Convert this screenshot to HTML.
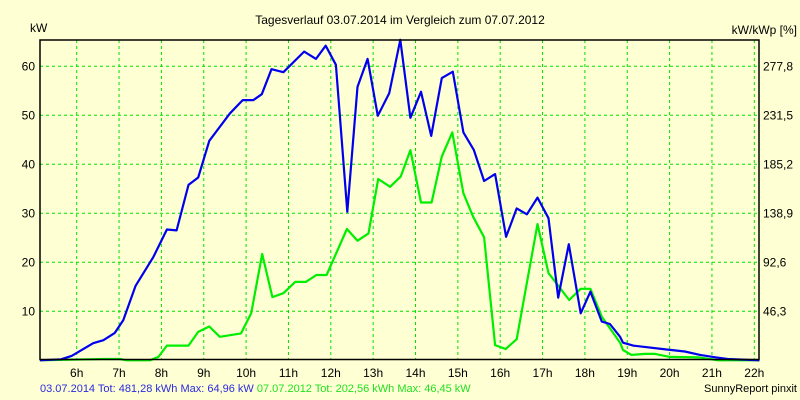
<!DOCTYPE html>
<html><head><meta charset="utf-8"><style>
html,body{margin:0;padding:0;background:#ffffd4;}
svg{display:block;font-family:"Liberation Sans",sans-serif;}
</style></head><body>
<svg id="chart" width="800" height="400" viewBox="0 0 800 400" xmlns="http://www.w3.org/2000/svg">
<rect x="0" y="0" width="800" height="400" fill="#ffffd4"/>
<text x="400" y="24" font-size="12" text-anchor="middle" fill="#000">Tagesverlauf 03.07.2014 im Vergleich zum 07.07.2012</text>
<text x="30" y="32" font-size="12" fill="#000">kW</text>
<text x="797" y="34" font-size="12" text-anchor="end" fill="#000">kW/kWp [%]</text>
<g id="grid"></g>
<g id="series"></g>
<g id="axes"></g>
<text x="40" y="392" font-size="11"><tspan fill="#2a2ae0">03.07.2014 Tot: 481,28 kWh Max: 64,96 kW </tspan><tspan fill="#22e022">07.07.2012 Tot: 202,56 kWh Max: 46,45 kW</tspan></text>
<text x="797" y="392" font-size="11" text-anchor="end" fill="#000">SunnyReport pinxit</text>
</svg>
<script>
const hourTicks = [6,7,8,9,10,11,12,13,14,15,16,17,18,19,20,21,22];
const leftTicks = [10,20,30,40,50,60];
const rightTickLabels = ["46,3","92,6","138,9","185,2","231,5","277,8"];
const blueHours = [5.13,5.63,5.88,6.39,6.63,6.9,7.1,7.39,7.81,8.13,8.36,8.64,8.87,9.13,9.62,9.92,10.17,10.37,10.6,10.88,11.37,11.65,11.88,12.12,12.39,12.63,12.87,13.11,13.38,13.64,13.88,14.13,14.37,14.62,14.88,15.13,15.38,15.62,15.88,16.14,16.39,16.63,16.88,17.14,17.37,17.62,17.9,18.13,18.4,18.59,18.83,18.9,19.14,19.93,20.36,20.72,21.1,21.37,22.12];
const blueValues = [0,0.2,0.9,3.5,4.1,5.6,8.2,15.2,21.1,26.7,26.5,35.8,37.3,44.8,50.4,53.1,53.1,54.3,59.4,58.8,63,61.5,64.2,60.3,30.3,55.8,61.5,49.9,54.5,65.4,49.5,54.8,45.8,57.6,58.9,46.5,42.9,36.6,38,25.2,31,29.8,33.2,29,12.8,23.7,9.6,14,7.9,7.4,4.8,3.6,3.0,2.2,1.8,1.1,0.6,0.27,0];
const greenHours = [5.13,6.63,7.02,7.18,7.73,7.93,8.13,8.64,8.87,9.13,9.38,9.88,10.12,10.38,10.62,10.88,11.16,11.41,11.66,11.9,12.38,12.63,12.89,13.12,13.4,13.65,13.88,14.13,14.38,14.62,14.87,15.13,15.36,15.62,15.88,16.13,16.39,16.88,17.14,17.63,17.9,18.13,18.4,18.83,18.9,19.1,19.42,19.66,20.0,20.7,21.14,22.12];
const greenValues = [0,0.27,0.27,0,0,0.7,3,3,5.8,6.9,4.8,5.5,9.6,21.7,12.9,13.7,16,16,17.4,17.4,26.8,24.4,25.9,37,35.4,37.5,42.9,32.2,32.2,41.6,46.5,34.1,29.3,25.1,3.1,2.3,4.3,27.8,17.8,12.3,14.6,14.6,8.9,3.6,2.1,1.1,1.3,1.3,0.7,0.6,0,0];

const L=40,R=759,T=40,B=359.5;
const xS = h => 76.7 + (h-6)*42.35;
const yS = v => 360.3 - v*4.9;
const NS="http://www.w3.org/2000/svg";
function mk(tag, attrs, parent){const e=document.createElementNS(NS,tag);for(const k in attrs)e.setAttribute(k,attrs[k]);parent.appendChild(e);return e;}
const grid=document.getElementById('grid'), axes=document.getElementById('axes'), series=document.getElementById('series');
hourTicks.forEach(h=>{
  const x=xS(h);
  const gl=mk('line',{x1:x,y1:T,x2:x,y2:B,stroke:'#00e000','stroke-width':1,'stroke-dasharray':'3,3'},grid);
  
  
  const t=mk('text',{x:x,y:377,'font-size':12,'text-anchor':'middle',fill:'#000'},axes);
  t.textContent=h+'h';
  
  
});
leftTicks.forEach((v,i)=>{
  const y=yS(v);
  const gl=mk('line',{x1:L,y1:y,x2:R,y2:y,stroke:'#00e000','stroke-width':1,'stroke-dasharray':'3,3'},grid);
  
  
  const t=mk('text',{x:35,y:y+4,'font-size':12,'text-anchor':'end',fill:'#000'},axes);
  t.textContent=v;
  
  
  const t2=mk('text',{x:763,y:y+4,'font-size':12,fill:'#000'},axes);
  t2.textContent=rightTickLabels[i];
  
  
});
const frame=mk('rect',{x:L,y:T,width:R-L,height:B-T,fill:'none',stroke:'#000','stroke-width':1.5},axes);


function line(hs,vs,color,name){
  const pts=hs.map((h,i)=>xS(h).toFixed(1)+','+yS(vs[i]).toFixed(1)).join(' ');
  const p=mk('polyline',{points:pts,fill:'none',stroke:color,'stroke-width':2.2,'stroke-linejoin':'round'},series);
  
  
}
line(greenHours,greenValues,'#00ee00','series-07-07-2012');
line(blueHours,blueValues,'#0000ee','series-03-07-2014');
</script>
</body></html>
